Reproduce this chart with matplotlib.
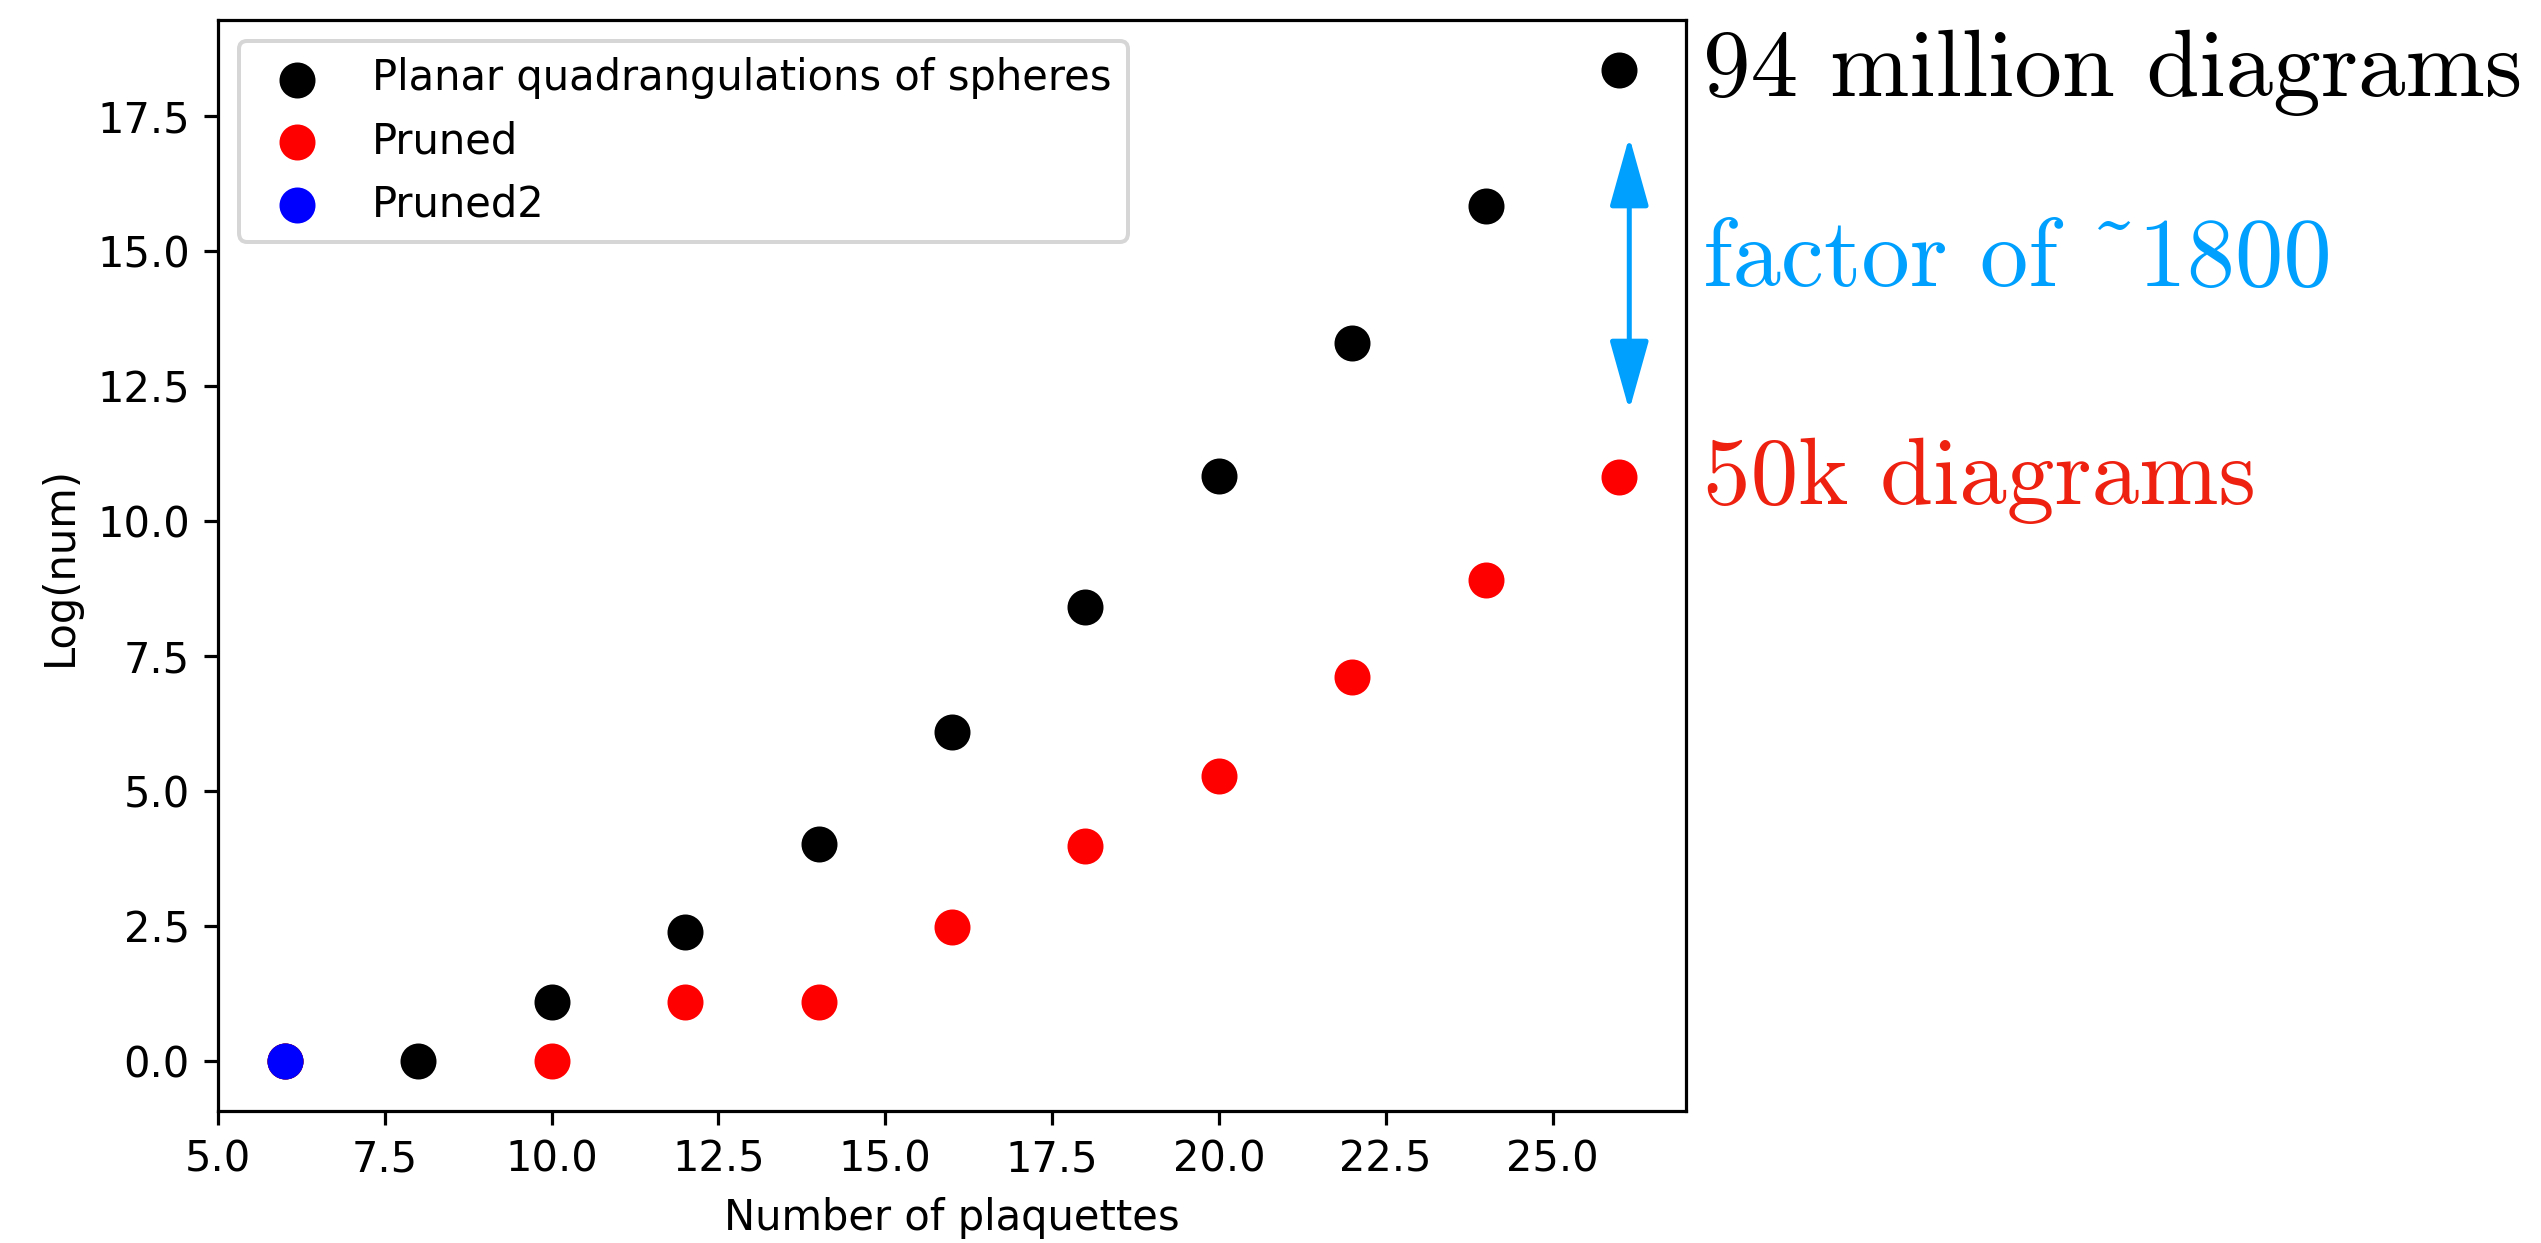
import numpy as np
import matplotlib.pyplot as plt

# plaquette counts and log of the number of diagrams
plaq_all = [6, 8, 10, 12, 14, 16, 18, 20, 22, 24, 26]
log_all = [0.0, 0.0, 1.1, 2.4, 4.02, 6.1, 8.41, 10.84, 13.3, 15.83, 18.36]

plaq_pruned = [6, 10, 12, 14, 16, 18, 20, 22, 24, 26]
log_pruned = [0.0, 0.0, 1.1, 1.1, 2.49, 3.99, 5.29, 7.12, 8.92, 10.82]

plaq_pruned2 = [6]
log_pruned2 = [0.0]

plt.rcParams['font.size'] = 10.4

W, H = 2541, 1243
DPI = 288
fig = plt.figure(figsize=(W / DPI, H / DPI), dpi=DPI)
ax = fig.add_axes([218 / W, 1 - 1111 / H, (1686 - 218) / W, (1111 - 20) / H])

ax.scatter(plaq_all, log_all, s=64, color='black', label='Planar quadrangulations of spheres')
ax.scatter(plaq_pruned, log_pruned, s=64, color='red', label='Pruned')
ax.scatter(plaq_pruned2, log_pruned2, s=64, color='blue', label='Pruned2')

ax.set_xlabel('Number of plaquettes')
ax.set_ylabel('Log(num)')
ax.legend(loc='upper left')

# double arrow between the two largest counts
ax.annotate('', xy=(26.15, 12.05), xytext=(26.15, 17.12),
            arrowprops=dict(arrowstyle='<|-|>,head_length=1.5,head_width=0.42',
                            mutation_scale=10, color='#00A0FF', lw=1.25,
                            shrinkA=0, shrinkB=0),
            annotation_clip=False)

fig.text(1703 / W, 1 - 96 / H, '94 million diagrams', family='cmr10',
         fontsize=23.8, color='black', va='baseline')
fig.text(1703 / W, 1 - 286 / H, 'factor of ~1800', family='cmr10',
         fontsize=24.2, color='#00A0FF', va='baseline')
fig.text(1703 / W, 1 - 504 / H, '50k diagrams', family='cmr10',
         fontsize=23.8, color='#EE2010', va='baseline')

fig.savefig('out.png', dpi=DPI)
